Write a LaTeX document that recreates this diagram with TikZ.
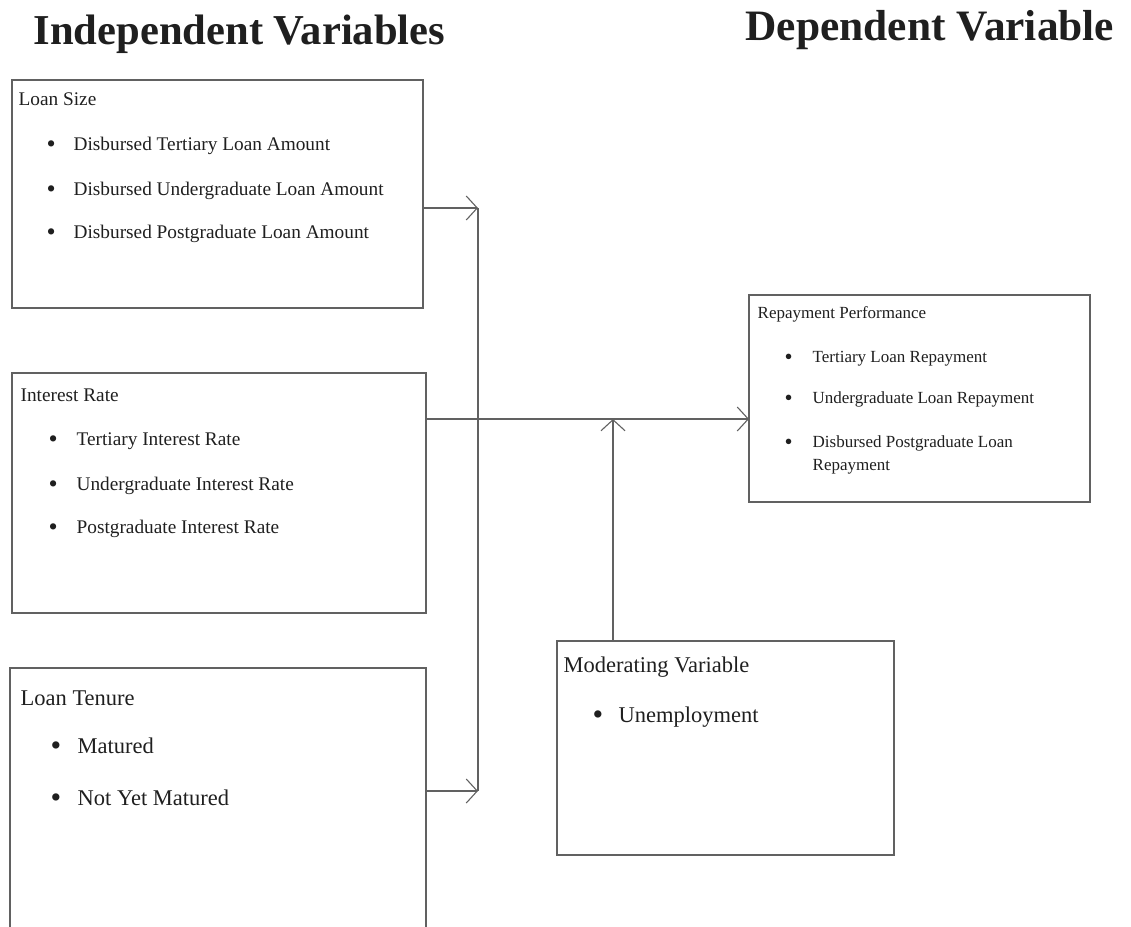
\documentclass[tikz,border=0pt]{standalone}
\usepackage{fontspec}
\setmainfont{Liberation Serif}
\usetikzlibrary{arrows.meta}

\newcommand{\bulitem}[2]{\makebox[#1][l]{\raisebox{-0.12em}{\scalebox{1.35}{\textbullet}}}#2}

\tikzset{every picture/.style={line width=1.3pt},
  box/.style={draw=black!62, anchor=north west, inner sep=0pt, outer sep=0pt},
  txt/.style={anchor=base west, inner sep=0pt, text=black!88},
  link/.style={draw=black!62},
  opentip/.style={-{Straight Barb[length=11pt,width=24pt,line width=1.1pt]}}
}

\begin{document}
\begin{tikzpicture}[x=1pt,y=1pt,yscale=-1]
		\path[use as bounding box] (0,0) rectangle (1131,926);
		\clip (0,0) rectangle (1131,926);

		% headings
		\node (indep) [txt, font=\fontsize{42.6}{48}\selectfont\bfseries] at (33,44) {Independent Variables};
		\node (dep) [txt, font=\fontsize{43.4}{48}\selectfont\bfseries] at (745,40) {Dependent Variable};

		% boxes
		\node (loansize) [box, minimum width=411, minimum height=228] at (12,80) {};
		\node (interest) [box, minimum width=414, minimum height=240] at (12,373) {};
		\node (tenure) [box, minimum width=416, minimum height=300] at (10,668) {};
		\node (repay) [box, minimum width=341, minimum height=207] at (749,295) {};
		\node (moder) [box, minimum width=337, minimum height=214] at (557,641) {};

		% loan size
		\begin{scope}[every node/.style={txt, font=\fontsize{19.3}{22}\selectfont}]
		\node (lsT) at (18,105) {Loan Size};
		\node (ls1) at (46,150) {\bulitem{27pt}{Disbursed Tertiary Loan Amount}};
		\node (ls2) at (46,195) {\bulitem{27pt}{Disbursed Undergraduate Loan Amount}};
		\node (ls3) at (46,238) {\bulitem{27pt}{Disbursed Postgraduate Loan Amount}};
		% interest rate
		\node (irT) at (20,401) {Interest Rate};
		\node (ir1) at (48,445) {\bulitem{28pt}{Tertiary Interest Rate}};
		\node (ir2) at (48,490) {\bulitem{28pt}{Undergraduate Interest Rate}};
		\node (ir3) at (48,533) {\bulitem{28pt}{Postgraduate Interest Rate}};
		\end{scope}

		% loan tenure and moderating variable
		\begin{scope}[every node/.style={txt, font=\fontsize{22.5}{26}\selectfont}]
		\node (ltT) at (20,705) {Loan Tenure};
		\node (lt1) at (50,753) {\bulitem{27pt}{Matured}};
		\node (lt2) at (50,805) {\bulitem{27pt}{Not Yet Matured}};
		\node (mvT) at (563,672) {Moderating Variable};
		\node (mv1) at (592,722) {\bulitem{26pt}{Unemployment}};
		\end{scope}

		% repayment performance
		\begin{scope}[every node/.style={txt, font=\fontsize{17}{20}\selectfont}]
		\node (rpT) at (757,318) {Repayment Performance};
		\node (rp1) at (784,362) {\bulitem{28pt}{Tertiary Loan Repayment}};
		\node (rp2) at (784,403) {\bulitem{28pt}{Undergraduate Loan Repayment}};
		\node (rp3) at (784,447) {\bulitem{28pt}{Disbursed Postgraduate Loan}};
		\node (rp4) at (812,470) {Repayment};
		\end{scope}

		% connectors
		\coordinate (jtop) at (478,208);
		\coordinate (jbot) at (478,791);
		\coordinate (jmid) at (613,419);
		\draw[link, opentip] (loansize.east |- jtop) -- (jtop);
		\draw[link] (jtop) -- (jbot);
		\draw[link, opentip] (tenure.east |- jbot) -- (jbot);
		\draw[link, opentip] (interest.east |- jmid) -- (repay.west |- jmid);
		\draw[link, opentip] (moder.north -| jmid) -- (jmid);
		\end{tikzpicture}
\end{document}
